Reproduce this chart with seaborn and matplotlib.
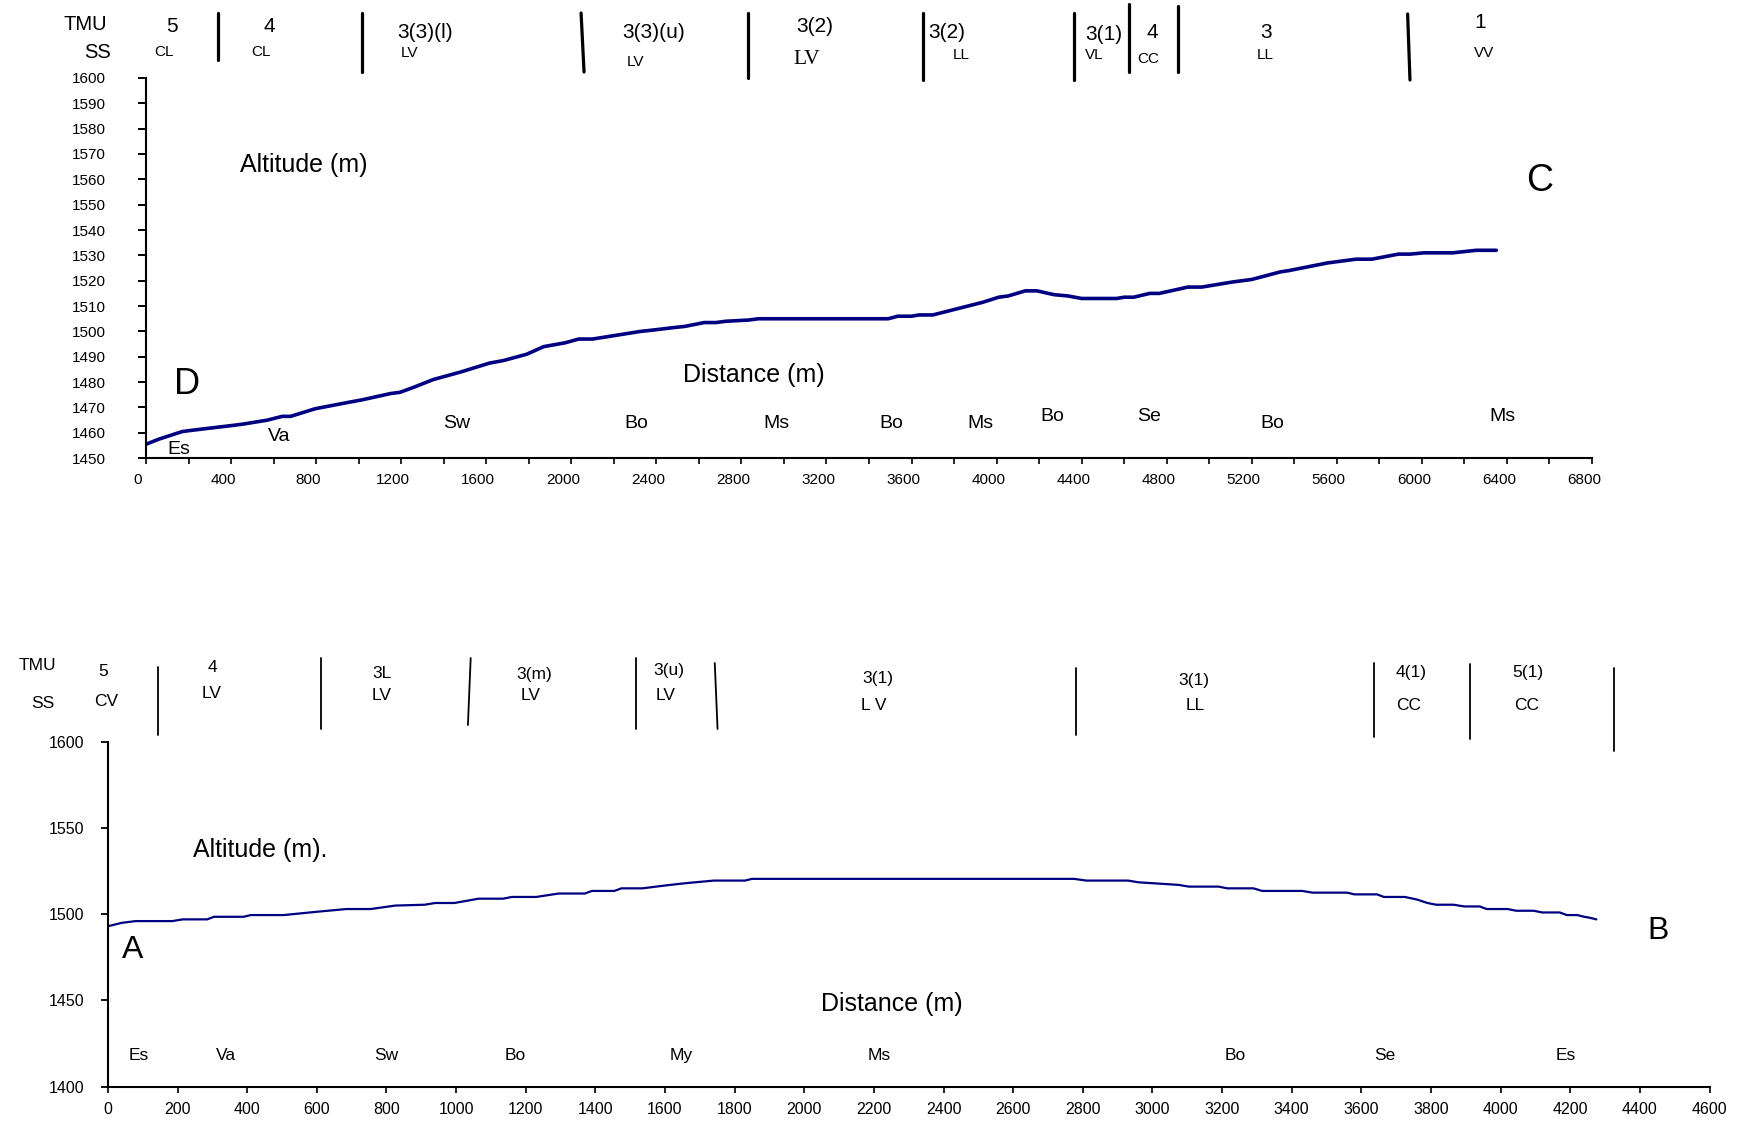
import numpy as np
import pandas as pd
import matplotlib
matplotlib.use("Agg")
import matplotlib.pyplot as plt
from matplotlib.lines import Line2D
from matplotlib.ticker import MultipleLocator
from matplotlib.transforms import blended_transform_factory, ScaledTranslation
import seaborn as sns

# ---------------- profile D - C (upper) ----------------
top_dist = [0, 60, 170, 215, 415, 460, 570, 640, 680, 795,
            950, 1015, 1150, 1195, 1260, 1350, 1480, 1615, 1680, 1790,
            1870, 1970, 2035, 2100, 2325, 2380, 2480, 2535, 2625, 2680,
            2725, 2835, 2880, 3490, 3535, 3600, 3635, 3700, 3935, 4010,
            4055, 4135, 4190, 4270, 4335, 4400, 4565, 4600, 4645, 4720,
            4765, 4900, 4965, 5110, 5200, 5335, 5375, 5555, 5690, 5765,
            5890, 5945, 6010, 6145, 6255, 6350]
top_alt = [1455.5, 1457.5, 1460.5, 1461, 1463, 1463.5, 1465, 1466.5, 1466.5, 1469.5,
           1472, 1473, 1475.5, 1476, 1478, 1481, 1484, 1487.5, 1488.5, 1491,
           1494, 1495.5, 1497, 1497, 1500, 1500.5, 1501.5, 1502, 1503.5, 1503.5,
           1504, 1504.5, 1505, 1505, 1506, 1506, 1506.5, 1506.5, 1511.5, 1513.5,
           1514, 1516, 1516, 1514.5, 1514, 1513, 1513, 1513.5, 1513.5, 1515,
           1515, 1517.5, 1517.5, 1519.5, 1520.5, 1523.5, 1524, 1527, 1528.5, 1528.5,
           1530.5, 1530.5, 1531, 1531, 1532, 1532]

top_tmu = ["5", "4", "3(3)(l)", "3(3)(u)", "3(2)", "3(2)", "3(1)", "4", "3", "1"]
top_tmu_at = [122, 578, 1312, 2389, 3146, 3767, 4505, 4731, 5267, 6273]
top_ss = ["CL", "CL", "LV", "LV", "LV", "LL", "VL", "CC", "LL", "VV"]
top_ss_at = [85, 541, 1241, 2304, 3108, 3833, 4458, 4712, 5262, 6292]
# unit boundaries (distance at upper end, distance at lower end)
top_bound_hi = [339, 1016, 2046, 2831, 3654, 4362, 4623, 4853, 5933]
top_bound_lo = [339, 1016, 2060, 2831, 3654, 4362, 4623, 4853, 5944]

top_geo = ["Es", "Va", "Sw", "Bo", "Ms", "Bo", "Ms", "Bo", "Se", "Bo", "Ms"]
top_geo_at = [155, 625, 1462, 2304, 2963, 3503, 3926, 4260, 4716, 5295, 6381]

# ---------------- profile A - B (lower) ----------------
bot_dist = [0, 40, 80, 185, 215, 285, 305, 390, 410, 505,
            605, 685, 755, 825, 910, 940, 995, 1065, 1135, 1160,
            1230, 1295, 1370, 1390, 1455, 1475, 1535, 1615, 1660, 1740,
            1830, 1850, 2775, 2810, 2930, 2960, 3075, 3105, 3190, 3215,
            3290, 3315, 3430, 3460, 3560, 3580, 3645, 3665, 3725, 3760,
            3790, 3815, 3865, 3895, 3940, 3960, 4020, 4045, 4095, 4120,
            4170, 4190, 4220, 4240, 4255, 4275]
bot_alt = [1493, 1495, 1496, 1496, 1497, 1497, 1498.5, 1498.5, 1499.5, 1499.5,
           1501.5, 1503, 1503, 1505, 1505.5, 1506.5, 1506.5, 1509, 1509, 1510,
           1510, 1512, 1512, 1513.5, 1513.5, 1515, 1515, 1517, 1518, 1519.5,
           1519.5, 1520.5, 1520.5, 1519.5, 1519.5, 1518.5, 1517, 1516, 1516, 1515,
           1515, 1513.5, 1513.5, 1512.5, 1512.5, 1511.5, 1511.5, 1510, 1510, 1508.5,
           1506.5, 1505.5, 1505.5, 1504.5, 1504.5, 1503, 1503, 1502, 1502, 1501,
           1501, 1499.5, 1499.5, 1498.5, 1498, 1497]

bot_tmu = ["5", "4", "3L", "3(m)", "3(u)", "3(1)", "3(1)", "4(1)", "5(1)"]
bot_tmu_at = [-14, 299, 787, 1224, 1612, 2210, 3120, 3743, 4079]
bot_ss = ["CV", "LV", "LV", "LV", "LV", "L V", "LL", "CC", "CC"]
bot_ss_at = [-5, 299, 787, 1215, 1603, 2200, 3123, 3737, 4076]
bot_bound_hi = [144, 613, 1042, 1517, 1743, 2780, 3635, 3911, 4326]
bot_bound_lo = [144, 613, 1034, 1517, 1751, 2780, 3635, 3911, 4326]

bot_geo = ["Es", "Va", "Sw", "Bo", "My", "Ms", "Bo", "Se", "Es"]
bot_geo_at = [89, 339, 799, 1169, 1646, 2215, 3237, 3668, 4188]

# ---------------- figure ----------------
sns.set_theme(style="ticks")
plt.rcParams["font.family"] = ["Liberation Sans", "DejaVu Sans"]
plt.rcParams["axes.linewidth"] = 1.5
for key in ("text.color", "axes.labelcolor", "xtick.color", "ytick.color",
            "xtick.labelcolor", "ytick.labelcolor", "axes.edgecolor"):
    plt.rcParams[key] = "black"

W, H = 1744, 1121
fig = plt.figure(figsize=(W / 100, H / 100), dpi=100)
fig.patch.set_facecolor("white")


def fy(py):
    """Figure fraction from a pixel row counted from the top."""
    return 1 - py / H


ax1 = fig.add_axes([146 / W, fy(458.2), 1446 / W, 380.3 / H])
ax2 = fig.add_axes([107.9 / W, fy(1086.6), 1601.6 / W, 344.8 / H])

navy = "#000080"
df_top = pd.DataFrame({"Distance": top_dist, "Altitude": top_alt})
df_bot = pd.DataFrame({"Distance": bot_dist, "Altitude": bot_alt})
sns.lineplot(data=df_top, x="Distance", y="Altitude", ax=ax1, color=navy, linewidth=2.6)
sns.lineplot(data=df_bot, x="Distance", y="Altitude", ax=ax2, color=navy, linewidth=1.6)

for ax in (ax1, ax2):
    sns.despine(ax=ax)
    ax.set_xlabel("")
    ax.set_ylabel("")
    ax.set_facecolor("white")
    ax.spines["left"].set_color("black")
    ax.spines["bottom"].set_color("black")

# upper axes
ax1.set_xlim(0, 6800)
ax1.set_ylim(1450, 1600)
ax1.xaxis.set_major_locator(MultipleLocator(400))
ax1.xaxis.set_minor_locator(MultipleLocator(200))
ax1.yaxis.set_major_locator(MultipleLocator(10))
ax1.tick_params(axis="y", which="major", length=6, width=1.4, pad=23, labelsize=11, color="black")
ax1.tick_params(axis="x", which="both", length=4, width=1.2, pad=7, labelsize=11, color="black")
shift = ScaledTranslation(-0.08, 0, fig.dpi_scale_trans)
for lab in ax1.get_xticklabels():
    lab.set_transform(lab.get_transform() + shift)

# lower axes
ax2.set_xlim(0, 4600)
ax2.set_ylim(1400, 1600)
ax2.xaxis.set_major_locator(MultipleLocator(200))
ax2.yaxis.set_major_locator(MultipleLocator(50))
ax2.tick_params(axis="y", length=5, width=1.3, pad=12, labelsize=11.5, color="black")
ax2.tick_params(axis="x", length=4, width=1.2, pad=7, labelsize=11.5, color="black")

# ---------------- texts inside the upper panel ----------------
ax1.text(743, 1565.6, "Altitude (m)", fontsize=18, ha="center", va="center")
ax1.text(2859, 1482.9, "Distance (m)", fontsize=18, ha="center", va="center")
ax1.text(192, 1478.9, "D", fontsize=26, ha="center", va="center")
ax1.text(6552, 1559.2, "C", fontsize=27, ha="center", va="center", clip_on=False)
top_geo_y = [1453.6, 1458.7, 1463.5, 1463.5, 1463.5, 1463.5, 1463.5, 1466.6, 1466.6, 1463.5, 1466.6]
for name, x, y in zip(top_geo, top_geo_at, top_geo_y):
    ax1.text(x, y, name, fontsize=14, ha="center", va="center", clip_on=False)

# ---------------- texts inside the lower panel ----------------
ax2.text(437, 1537.2, "Altitude (m).", fontsize=18, ha="center", va="center")
ax2.text(2252, 1447.8, "Distance (m)", fontsize=18, ha="center", va="center")
ax2.text(72, 1479.2, "A", fontsize=23, ha="center", va="center")
ax2.text(4453, 1490.3, "B", fontsize=23, ha="center", va="center", clip_on=False)
for name, x in zip(bot_geo, bot_geo_at):
    ax2.text(x, 1418.3, name, fontsize=12.5, ha="center", va="center")

# ---------------- unit strips above each panel ----------------
tr1 = blended_transform_factory(ax1.transData, fig.transFigure)
tr2 = blended_transform_factory(ax2.transData, fig.transFigure)

fig.text(85 / W, fy(25), "TMU", fontsize=14.5, ha="center", va="center")
fig.text(97.5 / W, fy(52), "SS", fontsize=14.5, ha="center", va="center")

top_tmu_y = [27, 27, 33, 33, 26, 32, 35, 32, 32, 23]
top_ss_y = [52, 52, 53, 62, 60, 55, 55, 59, 55, 53]
for lab, x, y in zip(top_tmu, top_tmu_at, top_tmu_y):
    ax1.text(x, fy(y), lab, transform=tr1, fontsize=15, ha="center", va="center", clip_on=False)
for i, (lab, x, y) in enumerate(zip(top_ss, top_ss_at, top_ss_y)):
    if i == 4:
        ax1.text(x, fy(y), lab, transform=tr1, fontsize=15.5, family="Liberation Serif",
                 ha="center", va="center", clip_on=False)
    else:
        ax1.text(x, fy(y), lab, transform=tr1, fontsize=11, ha="center", va="center", clip_on=False)

top_bar_y = [(13, 60), (13, 72), (13, 72), (13, 78), (13, 80), (13, 80), (4, 72), (6, 72), (14, 80)]
for xh, xl, (y0, y1) in zip(top_bound_hi, top_bound_lo, top_bar_y):
    fig.add_artist(Line2D([xh, xl], [fy(y0), fy(y1)], transform=tr1,
                          color="black", linewidth=2.3, solid_capstyle="round"))

fig.text(37 / W, fy(666), "TMU", fontsize=12.5, ha="center", va="center")
fig.text(43 / W, fy(703), "SS", fontsize=12.5, ha="center", va="center")

bot_tmu_y = [672, 667, 673, 675, 670, 678, 680, 673, 673]
bot_ss_y = [702, 693, 695, 695, 695, 705, 705, 705, 705]
for lab, x, y in zip(bot_tmu, bot_tmu_at, bot_tmu_y):
    ax2.text(x, fy(y), lab, transform=tr2, fontsize=12.5, ha="center", va="center", clip_on=False)
for lab, x, y in zip(bot_ss, bot_ss_at, bot_ss_y):
    ax2.text(x, fy(y), lab, transform=tr2, fontsize=12.5, ha="center", va="center", clip_on=False)

bot_bar_y = [(667, 735), (658, 729), (658, 725), (658, 729), (663, 729),
             (668, 735), (663, 737), (664, 739), (668, 751)]
for xh, xl, (y0, y1) in zip(bot_bound_hi, bot_bound_lo, bot_bar_y):
    fig.add_artist(Line2D([xh, xl], [fy(y0), fy(y1)], transform=tr2,
                          color="black", linewidth=1.3))

fig.savefig("out.png", dpi=100, facecolor="white")
